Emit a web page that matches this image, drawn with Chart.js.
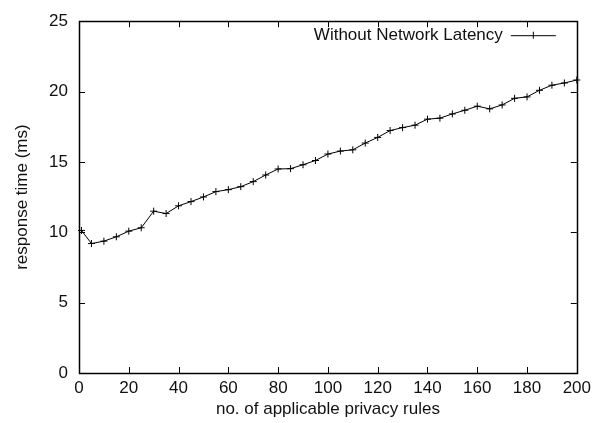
<!DOCTYPE html>
<html>
<head>
<meta charset="utf-8">
<script src="https://cdn.jsdelivr.net/npm/chart.js"></script>
<style>
  html, body { margin: 0; padding: 0; background: #fff; }
  #wrap { width: 596px; height: 423px; }
</style>
</head>
<body>
<div id="wrap"><canvas id="chart" width="596" height="423"></canvas></div>
<script>
// number of applicable privacy rules
const rules = [1, 5, 10, 15, 20, 25, 30, 35, 40, 45, 50, 55, 60, 65, 70, 75, 80, 85, 90, 95, 100,
  105, 110, 115, 120, 125, 130, 135, 140, 145, 150, 155, 160, 165, 170, 175, 180, 185, 190, 195, 200];
// response time (ms) without network latency
const responseTime = [10.13, 9.2, 9.37, 9.68, 10.08, 10.32, 11.5, 11.33, 11.88, 12.18, 12.51, 12.89,
  13.03, 13.24, 13.6, 14.07, 14.5, 14.52, 14.8, 15.1, 15.56, 15.77, 15.86, 16.34, 16.74, 17.23,
  17.44, 17.61, 18.04, 18.11, 18.41, 18.67, 18.96, 18.77, 19.05, 19.52, 19.62, 20.09, 20.45,
  20.61, 20.82];
const xTicks = [0, 20, 40, 60, 80, 100, 120, 140, 160, 180, 200];
const yTicks = [0, 5, 10, 15, 20, 25];
const seriesLabel = "Without Network Latency";

const FONT = "'Liberation Sans', Arial, Helvetica, sans-serif";
const INK = "#111";

// gnuplot-style frame: border box, inward ticks on all four sides, key at top right
const framePlugin = {
  id: "frame",
  afterDatasetsDraw(chart) {
    const { ctx, chartArea: a, scales } = chart;
    const tl = 6;
    ctx.save();
    ctx.strokeStyle = "#000";
    ctx.lineWidth = 1;
    ctx.beginPath();
    xTicks.forEach(v => {
      const px = Math.round(scales.x.getPixelForValue(v)) + 0.5;
      ctx.moveTo(px, a.bottom); ctx.lineTo(px, a.bottom - tl);
      ctx.moveTo(px, a.top); ctx.lineTo(px, a.top + tl);
    });
    yTicks.forEach(v => {
      const py = Math.round(scales.y.getPixelForValue(v)) + 0.5;
      ctx.moveTo(a.left, py); ctx.lineTo(a.left + tl, py);
      ctx.moveTo(a.right, py); ctx.lineTo(a.right - tl, py);
    });
    ctx.stroke();
    ctx.lineWidth = 1.5;
    ctx.strokeRect(Math.round(a.left) + 0.5, Math.round(a.top) + 0.5,
      Math.round(a.right - a.left), Math.round(a.bottom - a.top));

    // key
    ctx.lineWidth = 1;
    const ky = a.top + 14;
    const lineEnd = a.right - 21;
    const lineStart = lineEnd - 45;
    ctx.font = "17px " + FONT;
    ctx.fillStyle = INK;
    ctx.textAlign = "right";
    ctx.textBaseline = "middle";
    ctx.fillText(seriesLabel, lineStart - 8, ky);
    ctx.beginPath();
    ctx.moveTo(lineStart, ky + 0.5); ctx.lineTo(lineEnd, ky + 0.5);
    const cx = (lineStart + lineEnd) / 2;
    ctx.moveTo(cx, ky - 3.5); ctx.lineTo(cx, ky + 3.5);
    ctx.stroke();
    ctx.restore();
  }
};

new Chart(document.getElementById("chart"), {
  type: "line",
  data: {
    datasets: [{
      label: seriesLabel,
      data: rules.map((r, i) => ({ x: r, y: responseTime[i] })),
      borderColor: "#000",
      backgroundColor: "#000",
      borderWidth: 1,
      tension: 0,
      pointStyle: "cross",
      pointRadius: 3.5,
      pointBorderWidth: 1,
      pointBorderColor: "#000",
      clip: false
    }]
  },
  options: {
    responsive: false,
    animation: false,
    layout: { padding: { top: 20, right: 16, left: 0, bottom: 0 } },
    plugins: { legend: { display: false }, tooltip: { enabled: false } },
    scales: {
      x: {
        type: "linear",
        min: 0, max: 200,
        afterBuildTicks: s => { s.ticks = xTicks.map(v => ({ value: v })); },
        afterFit: s => { s.height = 50; },
        grid: { display: false, drawTicks: false },
        border: { display: false },
        ticks: { padding: 5, color: INK, font: { family: FONT, size: 17 }, maxRotation: 0 },
        title: { display: true, text: "no. of applicable privacy rules", color: INK,
          font: { family: FONT, size: 17 }, padding: { top: 0, bottom: 3 } }
      },
      y: {
        type: "linear",
        min: 0, max: 25,
        afterBuildTicks: s => { s.ticks = yTicks.map(v => ({ value: v })); },
        afterFit: s => { s.width = 79; },
        grid: { display: false, drawTicks: false },
        border: { display: false },
        ticks: { padding: 11, color: INK, font: { family: FONT, size: 17 } },
        title: { display: true, text: "response time (ms)", color: INK,
          font: { family: FONT, size: 17 }, padding: { top: 12, bottom: 0 } }
      }
    }
  },
  plugins: [framePlugin]
});
</script>
</body>
</html>
